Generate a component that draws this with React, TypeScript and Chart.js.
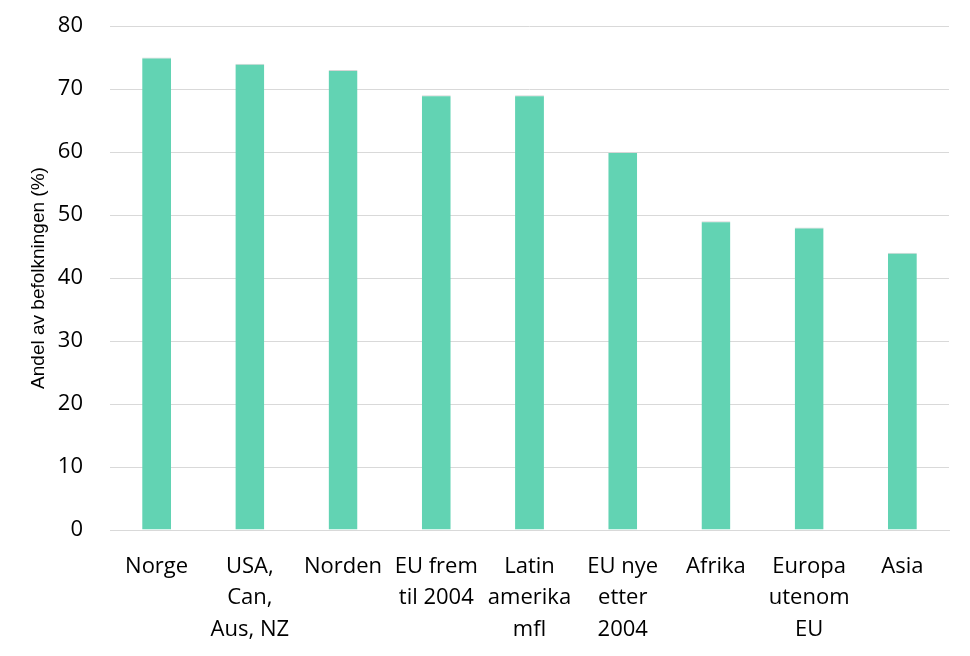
import React, { useEffect, useRef } from "react";
import { Chart, registerables } from "chart.js";

Chart.register(...registerables);

const categories: string[][] = [
  ["Norge"],
  ["USA,", "Can,", "Aus, NZ"],
  ["Norden"],
  ["EU frem", "til 2004"],
  ["Latin", "amerika", "mfl"],
  ["EU nye", "etter", "2004"],
  ["Afrika"],
  ["Europa", "utenom", "EU"],
  ["Asia"],
];
const values: number[] = [75, 74, 73, 69, 69, 60, 49, 48, 44];
const yTitle = "Andel av befolkningen (%)";
const yMin = 0;
const yMax = 80;
const yStep = 10;

export default function App() {
  const ref = useRef<HTMLCanvasElement | null>(null);
  useEffect(() => {
    document.body.style.margin = "0";
    const ctx = ref.current!;
    const chart = new Chart(ctx, {
      type: "bar",
      data: {
        labels: categories,
        datasets: [
          {
            data: values,
            backgroundColor: "#62D3B3",
            borderColor: "#D6D6D6",
            borderWidth: { top: 1, left: 0, right: 0, bottom: 0 },
            categoryPercentage: 1,
            barPercentage: 0.31,
          },
        ],
      },
      options: {
        animation: false,
        responsive: false,
        maintainAspectRatio: false,
        layout: { padding: { top: 26, right: 21, left: 0, bottom: 0 } },
        plugins: { legend: { display: false }, tooltip: { enabled: false } },
        scales: {
          x: {
            grid: { display: false, drawTicks: false },
            border: { display: true, color: "#D9D9D9", width: 1 },
            ticks: {
              color: "#000000",
              font: { family: "'Open Sans', sans-serif", size: 22, lineHeight: 1.43 },
              padding: 21,
              maxRotation: 0,
              autoSkip: false,
            },
            afterFit: (s: any) => {
              s.height = 126;
              s.paddingLeft = 0;
              s.paddingRight = 0;
            },
          },
          y: {
            min: yMin,
            max: yMax,
            grid: { color: "#D9D9D9", lineWidth: 1, drawTicks: false },
            border: { display: false },
            ticks: {
              stepSize: yStep,
              color: "#000000",
              font: { family: "'Open Sans', sans-serif", size: 22 },
              padding: 27,
            },
            title: {
              display: true,
              text: yTitle,
              color: "#000000",
              font: { family: "'Liberation Sans', Arial, sans-serif", size: 19 },
              padding: { top: 27, bottom: 0 },
            },
            afterFit: (s: any) => {
              s.width = 110;
              s.paddingTop = 0;
              s.paddingBottom = 0;
            },
          },
        },
      },
    });
    return () => chart.destroy();
  }, []);
  return (
    <div style={{ width: 970, height: 656 }}>
      <canvas ref={ref} width={970} height={656} />
    </div>
  );
}
